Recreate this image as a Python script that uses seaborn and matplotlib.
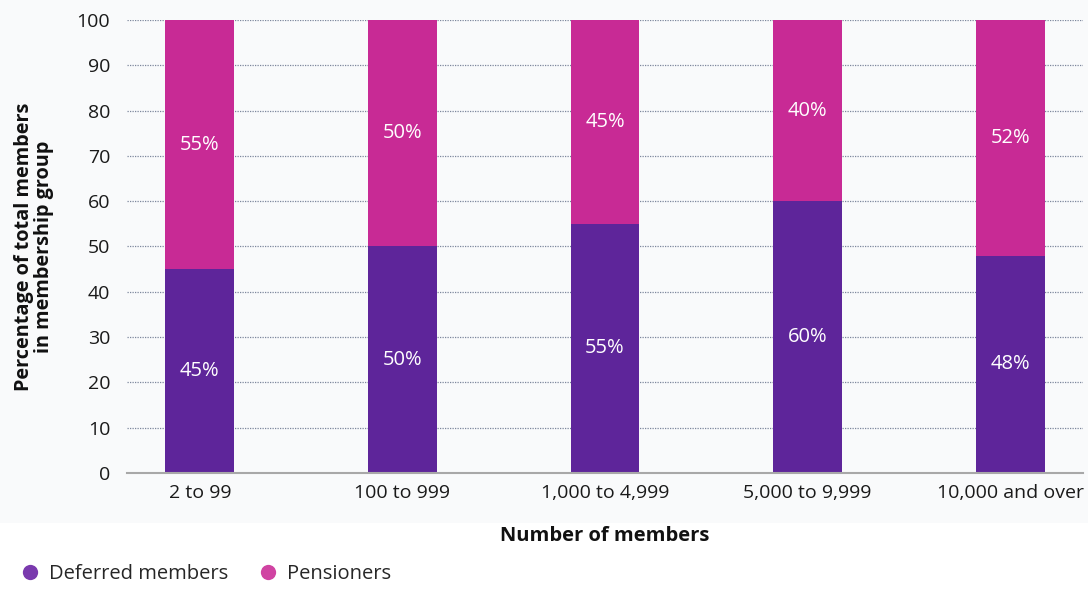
import matplotlib
matplotlib.use("Agg")
import matplotlib.pyplot as plt
from matplotlib.patches import Rectangle
from matplotlib.lines import Line2D
import seaborn as sns
import pandas as pd

categories = ["2 to 99", "100 to 999", "1,000 to 4,999", "5,000 to 9,999", "10,000 and over"]
deferred = [45, 50, 55, 60, 48]
pensioners = [55, 50, 45, 40, 52]
y_ticks = [0, 10, 20, 30, 40, 50, 60, 70, 80, 90, 100]

deferred_color = "#5e259a"
pensioner_color = "#c82a95"
bg_color = "#f9fafb"

sns.set_theme(style="white")
plt.rcParams["font.family"] = ["Open Sans", "DejaVu Sans"]

df = pd.DataFrame({"group": categories, "deferred": deferred, "pensioners": pensioners})
df["total"] = df["deferred"] + df["pensioners"]

fig = plt.figure(figsize=(10.88, 5.89), dpi=100, facecolor="white")
fig.patches.append(Rectangle((0, 0.112), 1, 0.888, transform=fig.transFigure,
                             facecolor=bg_color, edgecolor="none", zorder=-10))
ax = fig.add_axes([0.1167, 0.197, 0.8787, 0.769])
ax.set_facecolor(bg_color)

# stacked bars: full height in the pensioner colour, deferred share drawn over it
sns.barplot(data=df, x="group", y="total", color=pensioner_color, width=0.34,
            saturation=1, linewidth=0, ax=ax, zorder=3)
sns.barplot(data=df, x="group", y="deferred", color=deferred_color, width=0.34,
            saturation=1, linewidth=0, ax=ax, zorder=4)

for i, (d, p) in enumerate(zip(deferred, pensioners)):
    ax.text(i, d / 2, f"{d}%", ha="center", va="center", color="white", fontsize=14.5, zorder=5)
    ax.text(i, d + p / 2, f"{p}%", ha="center", va="center", color="white", fontsize=14.5, zorder=5)

ax.set_xlim(-0.36, 4.36)
ax.set_ylim(0, 100)
ax.set_yticks(y_ticks)
ax.yaxis.grid(True, linestyle=(0, (1, 1)), color="#7d879c", linewidth=0.9, zorder=0)
ax.xaxis.grid(False)
for side in ["top", "right", "left"]:
    ax.spines[side].set_visible(False)
ax.spines["bottom"].set_color("#a8a8a8")
ax.spines["bottom"].set_linewidth(1.5)
ax.spines["bottom"].set_zorder(6)
ax.tick_params(axis="both", length=0, labelsize=14, colors="#1a1a1a")
ax.tick_params(axis="y", pad=12)
ax.tick_params(axis="x", pad=8)

ax.set_xlabel("Number of members", fontsize=14.5, fontweight="bold", color="#111111", labelpad=17)
ax.set_ylabel("Percentage of total members\nin membership group", fontsize=14.3,
              fontweight="bold", color="#111111", labelpad=16, linespacing=1.05)

handles = [Line2D([0], [0], marker="o", linestyle="none", markersize=11,
                  markerfacecolor="#7a3aae", markeredgecolor="none"),
           Line2D([0], [0], marker="o", linestyle="none", markersize=11,
                  markerfacecolor="#d043a2", markeredgecolor="none")]
fig.legend(handles, ["Deferred members", "Pensioners"], loc="center left",
           bbox_to_anchor=(0.008, 0.025), ncol=2, frameon=False, fontsize=14.5,
           handletextpad=0.3, handlelength=1.3, columnspacing=1.3, borderaxespad=0)

fig.savefig("out.png", dpi=100, facecolor="white")
